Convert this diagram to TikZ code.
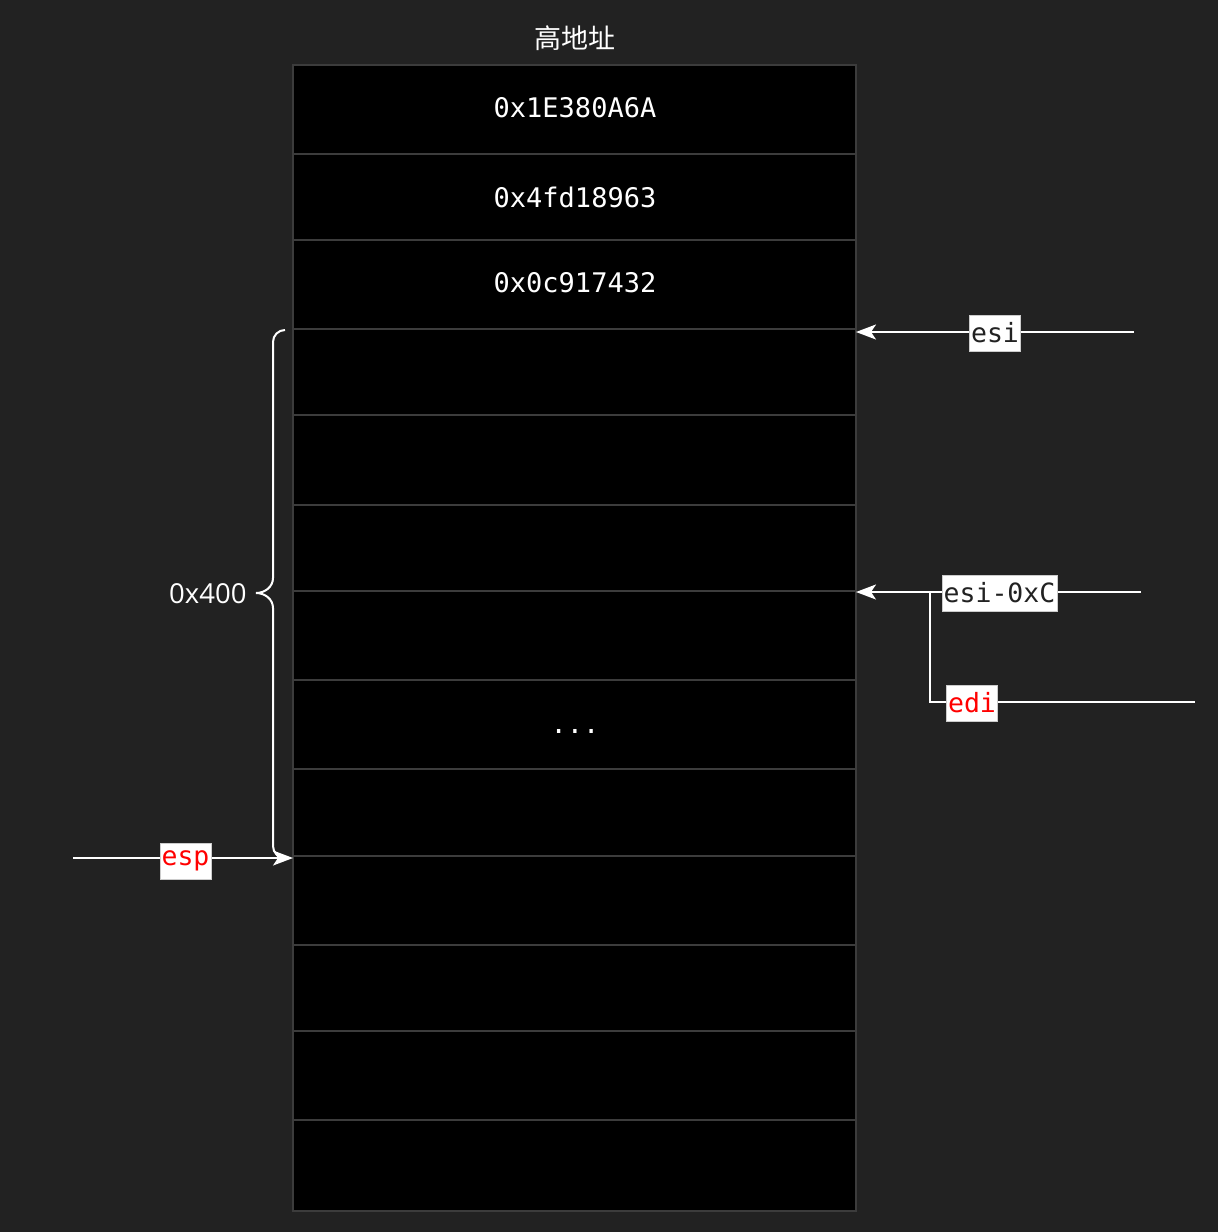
\documentclass[tikz,border=0pt]{standalone}
\usepackage{fontspec}
\setmainfont{Open Sans}
\newfontfamily\monof{DejaVu Sans Mono}
\newfontfamily\cjkf{Noto Sans CJK SC}
\usetikzlibrary{arrows.meta}
\definecolor{bgc}{HTML}{222222}
\definecolor{cellline}{HTML}{3C3C3C}
\definecolor{lbltext}{HTML}{222222}
\tikzset{
  cell/.style={draw=cellline, line width=2pt, fill=black},
  val/.style={text=white, font=\monof\fontsize{27}{30}\selectfont},
  lbl/.style={fill=white, draw=white!80!black, line width=0.6pt, inner sep=1.5pt, minimum height=36pt, text=lbltext, font=\monof\fontsize{26.5}{30}\selectfont},
  redlbl/.style={lbl, text=red},
  wline/.style={draw=white, line width=2pt},
  arr/.style={wline, -{Stealth[length=20pt, width=15pt, inset=5pt]}},
}
\begin{document}
\begin{tikzpicture}[x=1pt, y=-1pt]
\fill[bgc] (0,0) rectangle (1218,1232);
\useasboundingbox (0,0) rectangle (1218,1232);
% cells
\foreach \i/\a/\b in {1/65/154, 2/154/240, 3/240/329, 4/329/415, 5/415/505, 6/505/591, 7/591/680, 8/680/769, 9/769/856, 10/856/945, 11/945/1031, 12/1031/1120, 13/1120/1211}{
  \path[cell] (293,\a) rectangle (856,\b) coordinate (c\i);
}
\node[text=white, font=\cjkf\fontsize{27}{30}\selectfont] (title) at (575,38) {高地址};
\node[val] (v1) at (575,108) {0x1E380A6A};
\node[val] (v2) at (575,197) {0x4fd18963};
\node[val] (v3) at (575,283) {0x0c917432};
\node[val] (dots) at (575,731) {...};
% esi
\coordinate (esiR) at (1134,332);
\coordinate (esiL) at (856,332);
\draw[arr] (esiR) -- (esiL);
\node[lbl] (esi) at (995,333) {esi};
% esi-0xC and edi
\coordinate (eR) at (1141,592);
\coordinate (eL) at (856,592);
\coordinate (ediR) at (1195,702);
\coordinate (j) at (930,593);
\draw[arr] (eR) -- (eL);
\draw[wline] (ediR) -- (930,702) -- (j);
\node[lbl] (esic) at (999.5,593) {esi-0xC};
\node[redlbl] (edi) at (972,703) {edi};
% esp
\coordinate (espL) at (73,858);
\coordinate (espR) at (293,858);
\draw[arr] (espL) -- (espR);
\node[redlbl] (esp) at (185.5,861) {esp};
% brace
\draw[wline, line width=2pt] (285,330) to[out=180,in=90] (273,342) -- (273,578) to[out=-90,in=0] (256,593) to[out=0,in=90] (273,608) -- (273,846) to[out=-90,in=180] (285,858);
\node[text=white, font=\fontsize{27.5}{30}\selectfont, anchor=east] (sz) at (250,594) {0x400};
\end{tikzpicture}
\end{document}
